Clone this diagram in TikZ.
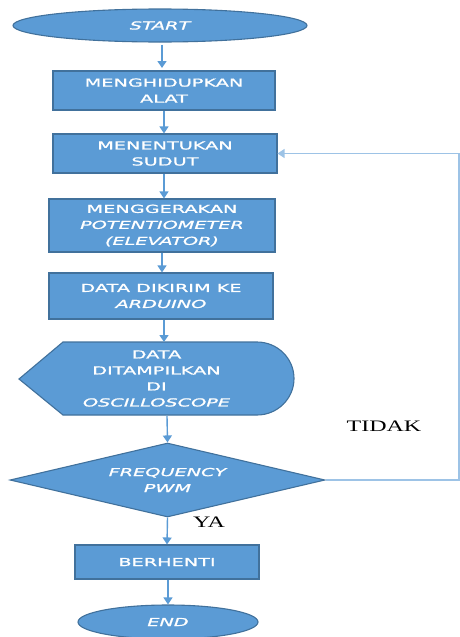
\documentclass[tikz,border=0pt]{standalone}
\usepackage{fontspec}
\usetikzlibrary{shapes.geometric,arrows.meta}
\newfontfamily\boxfont[FakeStretch=1.75,FakeBold=1.2]{DejaVu Sans}
\newfontfamily\labfont[FakeStretch=1.5]{Liberation Serif}
\definecolor{boxfill}{HTML}{5B9BD5}
\definecolor{boxline}{HTML}{41719C}
\definecolor{arrcol}{HTML}{5B9BD5}
\definecolor{fbcol}{HTML}{9DC3E6}
\tikzset{
  txt/.style={text=white, font=\boxfont\fontsize{11}{16}\selectfont, align=center, inner sep=0pt},
  blk/.style={txt, draw=boxline, fill=boxfill, line width=1.1pt},
  procbox/.style={blk, rectangle},
  termbox/.style={blk, ellipse},
  decbox/.style={blk, diamond, aspect=4.26},
  arr/.style={draw=arrcol, line width=1.4pt, -{Triangle[width=9pt,length=7pt]}},
  fbarr/.style={draw=fbcol, line width=1.4pt, -{Triangle[width=9pt,length=7pt]}},
  lab/.style={font=\labfont\fontsize{16}{18}\selectfont, text=black, inner sep=0pt}
}
\begin{document}
\begin{tikzpicture}[x=1pt,y=-1pt]
\useasboundingbox (0,0) rectangle (460,637);
% terminals and processes
\node[termbox, minimum width=294, minimum height=33] (start) at (160,25.5) {\itshape START};
\node[procbox, minimum width=222, minimum height=39] (n1) at (164,90.5) {MENGHIDUPKAN\\ALAT};
\node[procbox, minimum width=224, minimum height=39] (n2) at (165,153.5) {MENENTUKAN\\SUDUT};
\node[procbox, minimum width=226, minimum height=53] (n3) at (162,225.5) {MENGGERAKAN\\\itshape POTENTIOMETER\\\itshape (ELEVATOR)};
\node[procbox, minimum width=224, minimum height=46] (n4) at (161,296) {DATA DIKIRIM KE\\\itshape ARDUINO};
% display shape
\fill[boxfill, draw=boxline, line width=1.1pt] (19,379) -- (63,342) -- (257,342) arc (-90:90:37 and 36.5) -- (63,415) -- cycle;
\node[txt, minimum width=275, minimum height=73] (n5) at (156.5,378.5) {DATA\\DITAMPILKAN\\DI\\\itshape OSCILLOSCOPE};
\node[decbox, minimum width=315, minimum height=74] (n6) at (167.5,480) {\itshape FREQUENCY\\\itshape PWM};
\node[procbox, minimum width=184, minimum height=34] (n7) at (167,562) {BERHENTI};
\node[termbox, minimum width=180, minimum height=34] (end) at (168,622) {\itshape END};
% arrows
\draw[arr, shorten <=2pt] (start.south -| 162,0) -- (162,68);
\draw[arr] (164,111) -- (n2.north -| 164,0);
\draw[arr] (164,174) -- (n3.north -| 164,0);
\draw[arr] (162,253) -- (n4.north -| 162,0);
\draw[arr] (164,320) -- (164,342);
\draw[arr] (167,416) -- (n6.north);
\draw[arr] (n6.south) -- (n7.north);
\draw[arr] (168,580) -- (end.north);
% feedback
\coordinate (c1) at (459,480);
\draw[fbarr] (n6.east) -- (c1) |- (n2.east);
% labels
\node[lab] (tidak) at (384,426) {TIDAK};
\node[lab] (ya) at (209,522) {YA};
\end{tikzpicture}
\end{document}
